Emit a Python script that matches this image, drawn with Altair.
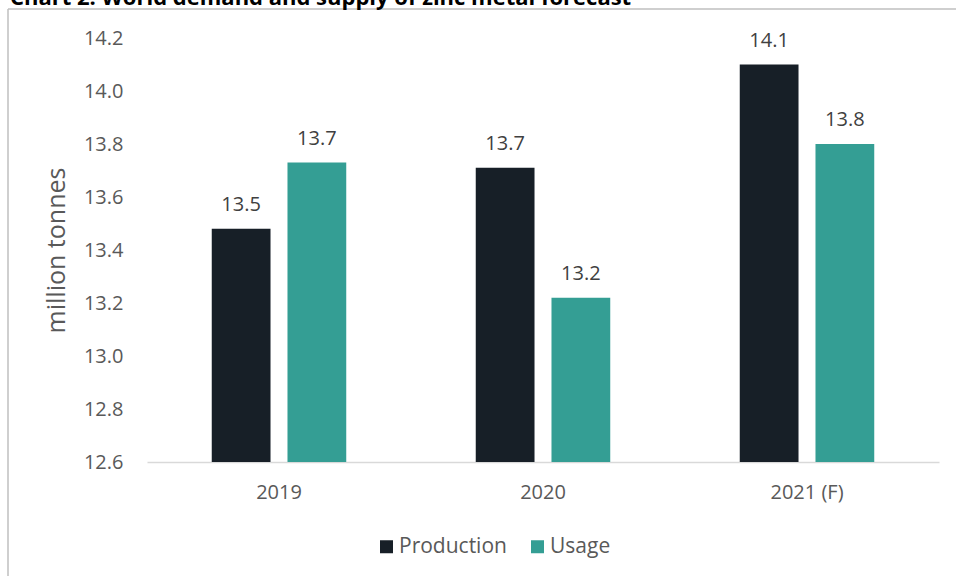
import altair as alt
import pandas as pd

years = ["2019", "2020", "2021 (F)"]
series = ["Production", "Usage"]
production = [13.48, 13.71, 14.10]
usage = [13.73, 13.22, 13.80]
colors = ["#171f27", "#349e94"]
title_text = "Chart 2: World demand and supply of zinc metal forecast"

rows = []
for i, y in enumerate(years):
    rows.append({"year": y, "series": "Production", "value": production[i]})
    rows.append({"year": y, "series": "Usage", "value": usage[i]})
df = pd.DataFrame(rows)

FONT = "Open Sans"
GREY = "#595959"

x = alt.X("year:N", sort=years, scale=alt.Scale(paddingInner=0, paddingOuter=0),
          axis=alt.Axis(title=None, labelAngle=0, ticks=False, domainColor="#d9d9d9",
                        domainWidth=1.5, labelPadding=20, labelFontSize=20,
                        labelColor=GREY, labelFont=FONT, grid=False))
xo = alt.XOffset("series:N", sort=series,
                 scale=alt.Scale(paddingInner=0.224, paddingOuter=0.855))

base = alt.Chart(df)

bars = base.mark_bar(clip=True).encode(
    x=x, xOffset=xo,
    y=alt.Y("value:Q", scale=alt.Scale(domain=[12.6, 14.2], zero=False, nice=False),
            axis=alt.Axis(title="million tonnes", values=[12.6 + 0.2 * k for k in range(9)],
                          format=".1f", grid=False, domain=False, ticks=False,
                          labelPadding=24, labelFontSize=20, labelColor=GREY, labelFont=FONT,
                          titleFontSize=25, titleColor=GREY, titleFont=FONT,
                          titleFontWeight="normal", titlePadding=14)),
    color=alt.Color("series:N", sort=series, scale=alt.Scale(domain=series, range=colors),
                    legend=alt.Legend(title=None, orient="none", legendX=229, legendY=498,
                                      direction="horizontal", symbolType="square",
                                      symbolSize=169, symbolStrokeWidth=0,
                                      labelFontSize=21, labelColor=GREY, labelFont=FONT,
                                      columnPadding=20, labelOffset=2)),
)

labels = base.mark_text(dy=-24, fontSize=20, color="#404040", font=FONT).encode(
    x=x, xOffset=xo, y="value:Q", text=alt.Text("value:Q", format=".1f"),
)

border = alt.Chart(pd.DataFrame({"a": [0]})).mark_rule(color="#bfbfbf", strokeWidth=1.5).encode(
    x=alt.value(-139), y=alt.value(-29), y2=alt.value(600)
)
border_top = alt.Chart(pd.DataFrame({"a": [0]})).mark_rule(color="#bfbfbf", strokeWidth=1.5).encode(
    x=alt.value(-139), x2=alt.value(900), y=alt.value(-29)
)
title = alt.Chart(pd.DataFrame({"t": [title_text]})).mark_text(
    align="left", baseline="alphabetic", fontSize=22, fontWeight="bold", font=FONT, color="#000000"
).encode(x=alt.value(-137), y=alt.value(-33), text="t:N")

chart = alt.layer(border, border_top, title, bars, labels).properties(
    width=792, height=424,
    autosize=alt.AutoSizeParams(type="none"),
    padding={"left": 147, "top": 38, "right": 17, "bottom": 114},
).configure_view(stroke=None)

chart.save("out.html", embed_options={"renderer": "svg", "actions": False})
